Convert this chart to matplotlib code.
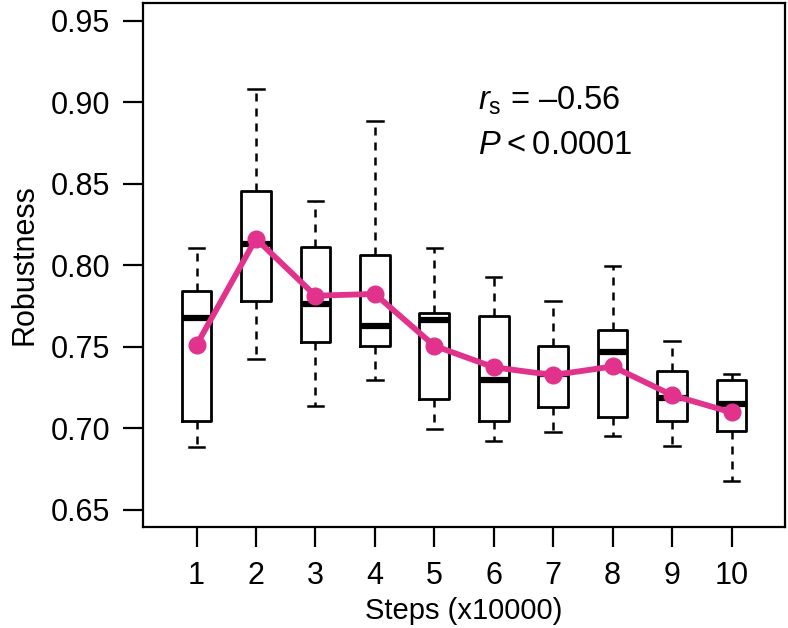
import matplotlib
matplotlib.use("Agg")
import matplotlib.pyplot as plt

plt.rcParams['font.family'] = ['Liberation Sans', 'DejaVu Sans']
plt.rcParams['mathtext.fontset'] = 'custom'
plt.rcParams['mathtext.rm'] = 'Liberation Sans'
plt.rcParams['mathtext.it'] = 'Liberation Sans:italic'

# box statistics (one entry per step)
steps = [1, 2, 3, 4, 5, 6, 7, 8, 9, 10]
whisk_lo = [0.6885, 0.7426, 0.7136, 0.7295, 0.6998, 0.6924, 0.6977, 0.6951, 0.6892, 0.6680]
q1 = [0.7045, 0.7782, 0.7530, 0.7503, 0.7180, 0.7045, 0.7131, 0.7072, 0.7045, 0.6987]
median = [0.7676, 0.8134, 0.7761, 0.7628, 0.7664, 0.7299, 0.7331, 0.7471, 0.7184, 0.7151]
q3 = [0.7842, 0.8457, 0.8115, 0.8064, 0.7706, 0.7687, 0.7503, 0.7602, 0.7354, 0.7295]
whisk_hi = [0.8105, 0.9080, 0.8397, 0.8889, 0.8109, 0.7927, 0.7782, 0.7999, 0.7536, 0.7331]
mean = [0.7511, 0.8164, 0.7814, 0.7825, 0.7507, 0.7375, 0.7327, 0.7380, 0.7204, 0.7098]

yticks = [0.65, 0.70, 0.75, 0.80, 0.85, 0.90, 0.95]
pink = '#E2338C'

fig = plt.figure(figsize=(7.88, 6.28), dpi=100)
ax = fig.add_axes([143 / 788, 1 - 527 / 628, 642 / 788, 524 / 628])

stats = []
for i in range(len(steps)):
    stats.append(dict(whislo=whisk_lo[i], q1=q1[i], med=median[i],
                      q3=q3[i], whishi=whisk_hi[i], fliers=[], label=str(steps[i])))

ax.bxp(stats, positions=steps, widths=0.5, showfliers=False,
       boxprops=dict(color='black', linewidth=2.0),
       medianprops=dict(color='black', linewidth=4.5, solid_capstyle='butt'),
       whiskerprops=dict(color='black', linewidth=1.8, linestyle=(0, (3.2, 2.8))),
       capprops=dict(color='black', linewidth=1.8),
       capwidths=0.26)

ax.plot(steps, mean, color=pink, linewidth=4.2, marker='o', markersize=12,
        zorder=5, solid_joinstyle='round')

ax.set_xlim(0.1, 10.9)
ax.set_ylim(0.6395, 0.9610)
ax.set_xticks(steps)
ax.set_xticklabels([str(s) for s in steps])
ax.set_yticks(yticks)
ax.set_yticklabels(['%.2f' % v for v in yticks])

for sp in ax.spines.values():
    sp.set_linewidth(1.6)
ax.tick_params(axis='both', direction='out', length=14.5, width=1.6,
               labelsize=22, pad=9)
ax.tick_params(axis='x', pad=10)

ax.set_xlabel('Steps (x10000)', fontsize=21, labelpad=4)
ax.set_ylabel('Robustness', fontsize=22, labelpad=8)

ax.text(0.522, 0.797, r'$\mathit{r}_{\mathrm{s}}$ = ' + '\u20130.56', transform=ax.transAxes,
        fontsize=23.5, ha='left', va='baseline')
ax.text(0.522, 0.712, r'$\mathit{P}$' + ' < 0.0001'.replace(' ', '\u2009'), transform=ax.transAxes,
        fontsize=23.5, ha='left', va='baseline')

fig.savefig('out.png', dpi=100)
